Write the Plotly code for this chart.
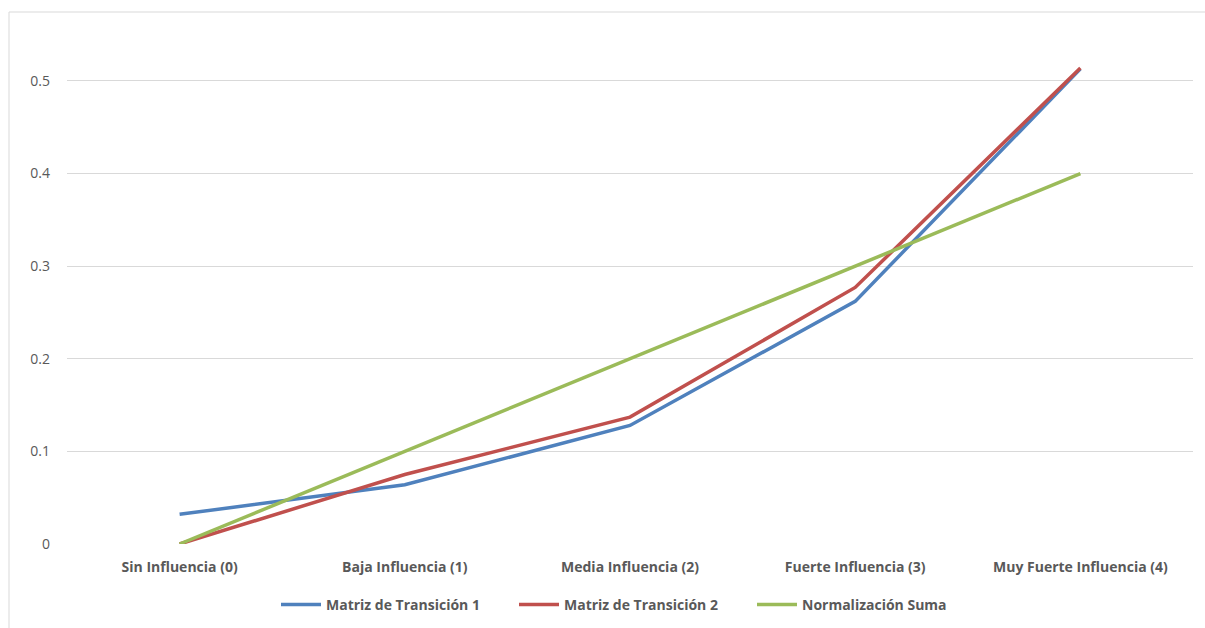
import plotly.graph_objects as go

# Categories on the x axis
categorias = [
    "Sin Influencia (0)",
    "Baja Influencia (1)",
    "Media Influencia (2)",
    "Fuerte Influencia (3)",
    "Muy Fuerte Influencia (4)",
]

# Series values
matriz_1 = [0.032, 0.064, 0.128, 0.262, 0.513]
matriz_2 = [0.0, 0.075, 0.137, 0.277, 0.514]
normalizacion_suma = [0.0, 0.1, 0.2, 0.3, 0.4]

nombres = ["Matriz de Transición 1", "Matriz de Transición 2", "Normalización Suma"]
colores = ["#4F81BD", "#C0504D", "#9BBB59"]

y_ticks = [0, 0.1, 0.2, 0.3, 0.4, 0.5]
y_tick_text = ["0", "0.1", "0.2", "0.3", "0.4", "0.5"]

FONT = "'Open Sans', Lato, sans-serif"

fig = go.Figure()
for nombre, valores, color in zip(nombres, [matriz_1, matriz_2, normalizacion_suma], colores):
    fig.add_trace(go.Scatter(
        x=list(range(len(categorias))),
        y=valores,
        name=nombre,
        mode="lines",
        line=dict(color=color, width=3.5),
    ))

fig.update_layout(
    width=1205,
    height=628,
    margin=dict(l=67, r=12, t=30, b=84, autoexpand=False),
    paper_bgcolor="white",
    plot_bgcolor="white",
    font=dict(family=FONT, color="#595959", size=14),
    showlegend=True,
    legend=dict(
        orientation="h",
        x=(276 - 67) / 1126,
        xanchor="left",
        yref="container",
        y=(628 - 605) / 628,
        yanchor="middle",
        font=dict(family=FONT, size=14, color="#595959", weight="bold"),
        itemwidth=40,
        entrywidth=183,
    ),
    xaxis=dict(
        range=[-0.5, 4.5],
        tickmode="array",
        tickvals=list(range(len(categorias))),
        ticktext=categorias,
        tickfont=dict(family=FONT, size=14, color="#595959", weight="bold"),
        showgrid=False,
        zeroline=False,
        showline=False,
        ticks="",
        ticklabelstandoff=13,
        fixedrange=True,
    ),
    yaxis=dict(
        range=[0, 0.555],
        tickmode="array",
        tickvals=y_ticks,
        ticktext=y_tick_text,
        tickfont=dict(family=FONT, size=14, color="#595959"),
        showgrid=True,
        gridcolor="#D9D9D9",
        gridwidth=1,
        zeroline=False,
        showline=False,
        ticks="",
        ticklabelstandoff=16,
        fixedrange=True,
    ),
    shapes=[
        # chart frame (left and top edges visible)
        dict(
            type="rect",
            xref="paper", yref="paper",
            x0=(9 - 67) / 1126, x1=1.05,
            y0=-0.25, y1=(544 - 12) / 514,
            line=dict(color="#D9D9D9", width=1),
            fillcolor="rgba(0,0,0,0)",
            layer="below",
        ),
    ],
)

fig.write_html("out.html")
